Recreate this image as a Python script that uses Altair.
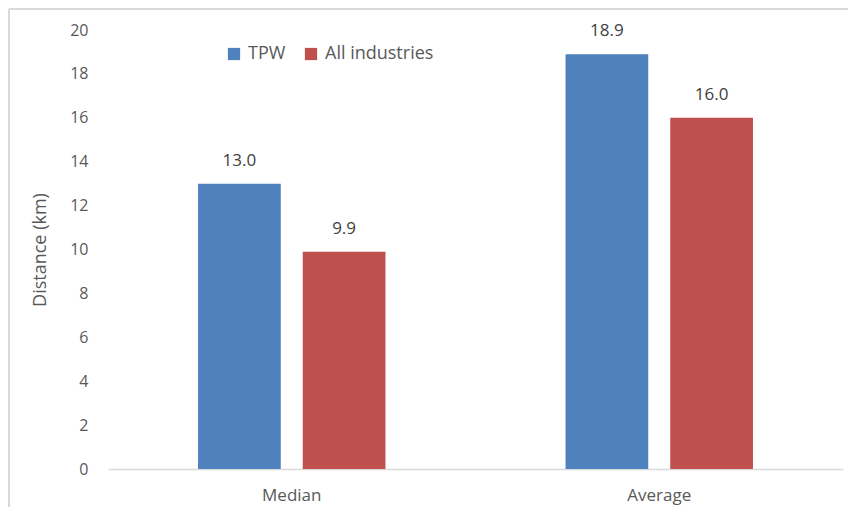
import altair as alt
import pandas as pd

categories = ["Median", "Average"]
series = ["TPW", "All industries"]
tpw = [13.0, 18.9]
all_ind = [9.9, 16.0]
colors = ["#4F81BD", "#C0504D"]

rows = []
for i, c in enumerate(categories):
    rows.append({"stat": c, "group": series[0], "value": tpw[i]})
    rows.append({"stat": c, "group": series[1], "value": all_ind[i]})
df = pd.DataFrame(rows)

FONT = "Open Sans"
TXT = "#595959"

x = alt.X("stat:N", sort=categories, title=None,
          scale=alt.Scale(paddingInner=0.49, paddingOuter=0.245),
          axis=alt.Axis(labelAngle=0, ticks=False, domainColor="#d9d9d9", domainWidth=1.3,
                        labelFontSize=17, labelColor=TXT, labelFont=FONT, labelPadding=18))
xo = alt.XOffset("group:N", sort=series, scale=alt.Scale(paddingInner=0.21, paddingOuter=0))
y = alt.Y("value:Q", title="Distance (km)",
          scale=alt.Scale(domain=[0, 20], nice=False),
          axis=alt.Axis(values=list(range(0, 21, 2)), grid=False, domain=False, ticks=False,
                        labelFontSize=16, labelColor=TXT, labelFont=FONT, labelPadding=20,
                        titleFontSize=18, titleColor=TXT, titleFont=FONT, titleFontWeight="normal",
                        titlePadding=20))

bars = alt.Chart(df).mark_bar().encode(
    x=x, xOffset=xo, y=y,
    color=alt.Color("group:N", sort=series,
                    scale=alt.Scale(domain=series, range=colors),
                    legend=alt.Legend(title=None, orient="none", direction="horizontal",
                                      legendX=117, legendY=15, symbolType="square",
                                      symbolSize=150, symbolStrokeWidth=0,
                                      labelFontSize=18, labelColor=TXT, labelFont=FONT,
                                      columnPadding=16, symbolOffset=0, labelOffset=5)),
)

labels = alt.Chart(df).mark_text(dy=-23, fontSize=17, color="#404040", font=FONT).encode(
    x=alt.X("stat:N", sort=categories), xOffset=alt.XOffset("group:N", sort=series), y="value:Q",
    text=alt.Text("value:Q", format=".1f"),
)

frame_left = alt.Chart(df).mark_rule(color="#d9d9d9", strokeWidth=1.5, clip=False).encode(
    x=alt.value(-99), y=alt.value(-21), y2=alt.value(480))
frame_top = alt.Chart(df).mark_rule(color="#d9d9d9", strokeWidth=1.5, clip=False).encode(
    x=alt.value(-99), x2=alt.value(740), y=alt.value(-21))

chart = alt.layer(frame_left, frame_top, bars, labels).properties(
    width=735, height=439,
    autosize=alt.AutoSizeParams(type="none"),
    padding={"left": 100, "top": 22, "right": 6, "bottom": 38},
).configure_view(stroke=None)

chart.save("out.html", embed_options={"renderer": "svg", "actions": False})
